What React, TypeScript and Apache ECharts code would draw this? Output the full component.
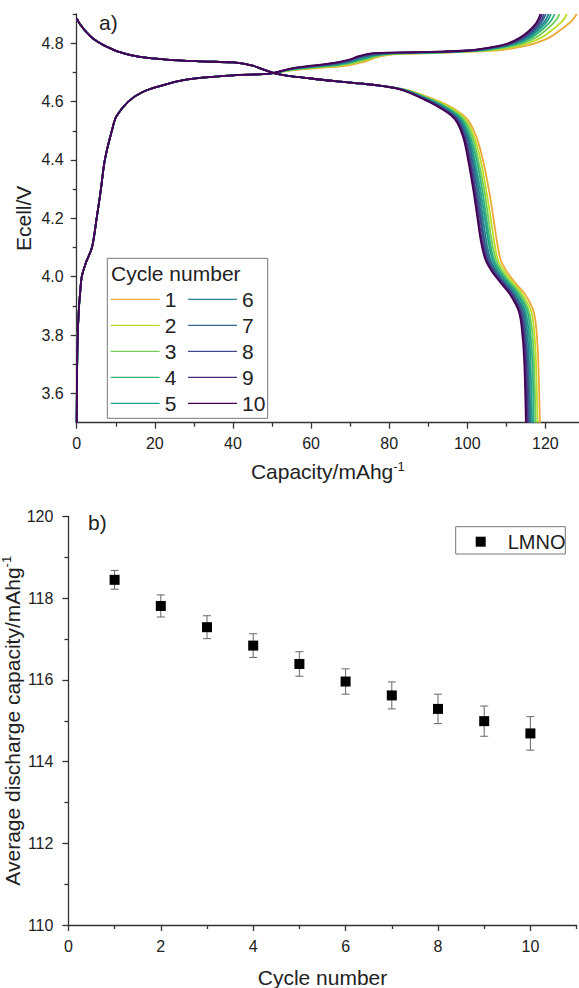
import React, { useEffect, useRef } from "react";
import * as echarts from "echarts";

// ---------- Panel a: charge / discharge curves ----------
const CYCLE_NAMES = ["1", "2", "3", "4", "5", "6", "7", "8", "9", "10"];
const CYCLE_COLORS = ["#EBA937", "#BCDD28", "#72CF56", "#33B37A", "#1F9E89", "#26828E", "#31688E", "#3E4A89", "#482878", "#440154"];

// charge, common start (capacity mAh/g, voltage V)
const CH_START_CAP = [0, 0.09, 0.26, 0.6, 0.85, 1.3, 2.4, 3.9, 5.1, 6.2, 7.2, 9.0, 10.2, 13.2, 16.5, 20.5, 28, 40, 49.5];
const CH_START_V = [3.5, 3.67, 3.8, 3.9, 3.94, 4.0, 4.05, 4.1, 4.2, 4.3, 4.4, 4.5, 4.55, 4.6, 4.63, 4.65, 4.675, 4.69, 4.696];

// charge, middle part: voltages of each cycle at these capacities
const CH_MID_CAP = [55, 60, 64, 67, 70, 72, 74, 76, 78, 81, 86, 93];
const CH_MID_V_C1 = [4.707, 4.713, 4.717, 4.72, 4.725, 4.731, 4.738, 4.748, 4.756, 4.762, 4.764, 4.767];
const CH_MID_V_C2 = [4.708, 4.715, 4.719, 4.723, 4.728, 4.735, 4.742, 4.751, 4.758, 4.763, 4.765, 4.768];
const CH_MID_V_C3 = [4.709, 4.716, 4.721, 4.725, 4.731, 4.738, 4.745, 4.754, 4.759, 4.764, 4.766, 4.768];
const CH_MID_V_C4 = [4.71, 4.717, 4.722, 4.726, 4.734, 4.741, 4.748, 4.756, 4.761, 4.765, 4.766, 4.769];
const CH_MID_V_C5 = [4.711, 4.719, 4.724, 4.728, 4.736, 4.744, 4.751, 4.758, 4.762, 4.765, 4.767, 4.769];
const CH_MID_V_C6 = [4.712, 4.72, 4.725, 4.73, 4.738, 4.747, 4.754, 4.76, 4.763, 4.766, 4.767, 4.77];
const CH_MID_V_C7 = [4.712, 4.721, 4.726, 4.731, 4.74, 4.749, 4.756, 4.762, 4.764, 4.767, 4.768, 4.77];
const CH_MID_V_C8 = [4.713, 4.721, 4.727, 4.733, 4.742, 4.751, 4.758, 4.763, 4.765, 4.767, 4.768, 4.77];
const CH_MID_V_C9 = [4.713, 4.722, 4.728, 4.734, 4.743, 4.753, 4.76, 4.765, 4.766, 4.768, 4.769, 4.771];
const CH_MID_V_C10 = [4.714, 4.723, 4.729, 4.735, 4.745, 4.755, 4.762, 4.766, 4.767, 4.768, 4.769, 4.771];

// charge, end part: capacity of each cycle at these voltages
const CH_TAIL_V = [4.775, 4.78, 4.79, 4.8, 4.82, 4.84, 4.86, 4.88, 4.9];
const CH_TAIL_CAP_C1 = [107.0, 110.5, 114.5, 117.5, 121.1, 123.3, 125.3, 127.0, 128.0];
const CH_TAIL_CAP_C2 = [105.1, 108.5, 112.7, 115.6, 119.1, 121.2, 123.1, 124.6, 125.5];
const CH_TAIL_CAP_C3 = [103.7, 107.1, 111.4, 114.3, 117.6, 119.7, 121.4, 122.8, 123.6];
const CH_TAIL_CAP_C4 = [102.7, 106.1, 110.4, 113.3, 116.5, 118.6, 120.3, 121.6, 122.3];
const CH_TAIL_CAP_C5 = [102.0, 105.3, 109.7, 112.6, 115.8, 117.8, 119.5, 120.7, 121.4];
const CH_TAIL_CAP_C6 = [101.5, 104.8, 109.3, 112.1, 115.3, 117.3, 118.9, 120.1, 120.8];
const CH_TAIL_CAP_C7 = [101.1, 104.3, 108.8, 111.6, 114.7, 116.8, 118.3, 119.4, 120.1];
const CH_TAIL_CAP_C8 = [100.7, 103.9, 108.5, 111.3, 114.4, 116.4, 117.9, 119.0, 119.6];
const CH_TAIL_CAP_C9 = [100.3, 103.5, 108.1, 110.9, 113.9, 115.9, 117.4, 118.5, 119.1];
const CH_TAIL_CAP_C10 = [100.0, 103.2, 107.8, 110.6, 113.6, 115.6, 117.1, 118.1, 118.7];

// discharge, common start
const DIS_HEAD_CAP = [0, 1, 2.6, 4, 6, 8, 10.2, 13, 16.2, 23, 31.6, 40.1, 43, 45.3, 47, 48.6, 50, 52, 54.6, 60, 66, 72.5, 78];
const DIS_HEAD_V = [4.885, 4.862, 4.836, 4.818, 4.8, 4.786, 4.773, 4.762, 4.753, 4.744, 4.738, 4.734, 4.729, 4.722, 4.714, 4.706, 4.7, 4.693, 4.687, 4.679, 4.67, 4.662, 4.654];

// discharge, end part: capacity of each cycle at these voltages
const DIS_TAIL_V = [4.64, 4.61, 4.58, 4.54, 4.48, 4.4, 4.3, 4.2, 4.12, 4.06, 4.02, 3.98, 3.94, 3.88, 3.8, 3.7, 3.5];
const DIS_TAIL_CAP_C1 = [84.5, 91.0, 96.0, 100.0, 102.3, 104.0, 105.5, 106.7, 107.6, 108.5, 110.0, 112.2, 114.8, 117.0, 117.8, 118.2, 118.6];
const DIS_TAIL_CAP_C2 = [84.3, 90.6, 95.5, 99.5, 101.7, 103.4, 104.8, 106.0, 106.9, 107.8, 109.4, 111.6, 114.1, 116.4, 117.2, 117.6, 118.0];
const DIS_TAIL_CAP_C3 = [84.1, 90.2, 95.0, 99.0, 101.3, 102.8, 104.3, 105.4, 106.3, 107.3, 108.8, 111.1, 113.6, 115.8, 116.7, 117.1, 117.5];
const DIS_TAIL_CAP_C4 = [83.9, 89.9, 94.6, 98.6, 100.8, 102.4, 103.8, 104.9, 105.8, 106.8, 108.4, 110.6, 113.1, 115.4, 116.2, 116.7, 117.0];
const DIS_TAIL_CAP_C5 = [83.8, 89.6, 94.2, 98.2, 100.4, 101.9, 103.3, 104.5, 105.4, 106.4, 107.9, 110.2, 112.7, 114.9, 115.8, 116.2, 116.6];
const DIS_TAIL_CAP_C6 = [83.6, 89.4, 93.9, 97.9, 100.1, 101.5, 102.9, 104.0, 104.9, 105.9, 107.5, 109.8, 112.2, 114.5, 115.4, 115.8, 116.2];
const DIS_TAIL_CAP_C7 = [83.5, 89.1, 93.6, 97.6, 99.8, 101.2, 102.5, 103.6, 104.5, 105.6, 107.2, 109.4, 111.9, 114.2, 115.0, 115.5, 115.9];
const DIS_TAIL_CAP_C8 = [83.4, 88.9, 93.3, 97.3, 99.4, 100.8, 102.1, 103.3, 104.2, 105.2, 106.8, 109.1, 111.5, 113.8, 114.7, 115.2, 115.6];
const DIS_TAIL_CAP_C9 = [83.3, 88.7, 93.1, 97.1, 99.2, 100.5, 101.8, 102.9, 103.8, 104.9, 106.5, 108.8, 111.2, 113.5, 114.4, 114.9, 115.3];
const DIS_TAIL_CAP_C10 = [83.2, 88.5, 92.8, 96.8, 98.9, 100.2, 101.5, 102.6, 103.5, 104.6, 106.2, 108.5, 110.9, 113.2, 114.1, 114.6, 115.0];

const CH_MID_V = [CH_MID_V_C1, CH_MID_V_C2, CH_MID_V_C3, CH_MID_V_C4, CH_MID_V_C5, CH_MID_V_C6, CH_MID_V_C7, CH_MID_V_C8, CH_MID_V_C9, CH_MID_V_C10];
const CH_TAIL_CAP = [CH_TAIL_CAP_C1, CH_TAIL_CAP_C2, CH_TAIL_CAP_C3, CH_TAIL_CAP_C4, CH_TAIL_CAP_C5, CH_TAIL_CAP_C6, CH_TAIL_CAP_C7, CH_TAIL_CAP_C8, CH_TAIL_CAP_C9, CH_TAIL_CAP_C10];
const DIS_TAIL_CAP = [DIS_TAIL_CAP_C1, DIS_TAIL_CAP_C2, DIS_TAIL_CAP_C3, DIS_TAIL_CAP_C4, DIS_TAIL_CAP_C5, DIS_TAIL_CAP_C6, DIS_TAIL_CAP_C7, DIS_TAIL_CAP_C8, DIS_TAIL_CAP_C9, DIS_TAIL_CAP_C10];

const A_X_MAJOR = [0, 20, 40, 60, 80, 100, 120];
const A_X_MINOR = [10, 30, 50, 70, 90, 110];
const A_Y_MAJOR = [3.6, 3.8, 4.0, 4.2, 4.4, 4.6, 4.8];
const A_Y_MINOR = [3.7, 3.9, 4.1, 4.3, 4.5, 4.7, 4.9];

// ---------- Panel b: average discharge capacity ----------
const CYCLE_NUM = [1, 2, 3, 4, 5, 6, 7, 8, 9, 10];
const AVG_CAP = [118.45, 117.81, 117.29, 116.84, 116.39, 115.96, 115.62, 115.29, 114.99, 114.69];
const CAP_ERR = [0.23, 0.27, 0.28, 0.29, 0.3, 0.31, 0.33, 0.36, 0.37, 0.41];

const B_X_MAJOR = [0, 2, 4, 6, 8, 10];
const B_X_MINOR = [1, 3, 5, 7, 9, 11];
const B_Y_MAJOR = [110, 112, 114, 116, 118, 120];
const B_Y_MINOR = [111, 113, 115, 117, 119];

const FONT = "Liberation Sans, Arial, sans-serif";
const TXT = "#222";
const AX = "#333";

function zip(xs: number[], ys: number[]) {
  return xs.map((x, i) => [x, ys[i]]);
}

function mainAxis(o: any) {
  return {
    type: "value",
    gridIndex: o.grid,
    position: o.position,
    min: o.min,
    max: o.max,
    name: o.name,
    nameLocation: "middle",
    nameGap: o.nameGap,
    nameMoveOverlap: false,
    nameTextStyle: {
      fontSize: 21,
      fontFamily: FONT,
      color: TXT,
      lineHeight: 24,
      rich: { sup: { fontSize: 13, fontFamily: FONT, color: TXT, verticalAlign: "top", lineHeight: 14 } },
    },
    axisLine: { show: true, onZero: false, lineStyle: { color: AX, width: 1.3 } },
    axisTick: { show: true, inside: false, length: 6, customValues: o.major, lineStyle: { color: AX, width: 1.3 } },
    axisLabel: {
      show: true,
      customValues: o.major,
      margin: o.margin,
      fontSize: 16,
      fontFamily: FONT,
      color: TXT,
      formatter: o.fmt,
    },
    splitLine: { show: false },
  };
}

function minorAxis(o: any) {
  return {
    type: "value",
    gridIndex: o.grid,
    position: o.position,
    min: o.min,
    max: o.max,
    axisLine: { show: false, onZero: false },
    axisTick: { show: true, inside: false, length: 4, customValues: o.minor, lineStyle: { color: AX, width: 1.3 } },
    axisLabel: { show: false },
    splitLine: { show: false },
  };
}

export default function App() {
  const ref = useRef<HTMLDivElement>(null);

  useEffect(() => {
    document.body.style.margin = "0";
    if (!ref.current) return;
    const chart = echarts.init(ref.current, null, { renderer: "svg" });

    const series: any[] = [];
    for (let k = 0; k < 10; k++) {
      const charge = [
        ...zip(CH_START_CAP, CH_START_V),
        ...zip(CH_MID_CAP, CH_MID_V[k]),
        ...zip(CH_TAIL_CAP[k], CH_TAIL_V),
      ];
      const discharge = [...zip(DIS_HEAD_CAP, DIS_HEAD_V), ...zip(DIS_TAIL_CAP[k], DIS_TAIL_V)];
      [charge, discharge].forEach((data) => {
        series.push({
          type: "line",
          name: CYCLE_NAMES[k],
          xAxisIndex: 0,
          yAxisIndex: 0,
          data,
          symbol: "none",
          smooth: 0.35,
          lineStyle: { color: CYCLE_COLORS[k], width: 1.8 },
          itemStyle: { color: CYCLE_COLORS[k] },
          z: 2 + k,
          silent: true,
        });
      });
    }

    series.push({
      type: "custom",
      xAxisIndex: 2,
      yAxisIndex: 2,
      data: CYCLE_NUM.map((c, i) => [c, AVG_CAP[i], CAP_ERR[i]]),
      encode: { x: 0, y: 1 },
      silent: true,
      z: 2,
      renderItem: (params: any, api: any) => {
        const x = api.value(0);
        const y = api.value(1);
        const e = api.value(2);
        const t = api.coord([x, y + e]);
        const b = api.coord([x, y - e]);
        const w = 4;
        const style = { stroke: "#666", lineWidth: 1 };
        return {
          type: "group",
          children: [
            { type: "line", shape: { x1: t[0], y1: t[1], x2: b[0], y2: b[1] }, style },
            { type: "line", shape: { x1: t[0] - w, y1: t[1], x2: t[0] + w, y2: t[1] }, style },
            { type: "line", shape: { x1: b[0] - w, y1: b[1], x2: b[0] + w, y2: b[1] }, style },
          ],
        };
      },
    });

    series.push({
      type: "scatter",
      name: "LMNO",
      xAxisIndex: 2,
      yAxisIndex: 2,
      data: zip(CYCLE_NUM, AVG_CAP),
      symbol: "rect",
      symbolSize: 10,
      itemStyle: { color: "#000", opacity: 1 },
      z: 3,
      silent: true,
    });

    const legendText = { fontSize: 21, fontFamily: FONT, color: TXT, lineHeight: 26 };
    const cycleLegend = {
      orient: "vertical",
      top: 286.3,
      padding: 0,
      itemGap: 0,
      itemWidth: 49,
      itemHeight: 14,
      selectedMode: false,
      lineStyle: { width: 1.3 },
      itemStyle: { opacity: 0, borderWidth: 0 },
      textStyle: legendText,
    };

    chart.setOption({
      animation: false,
      backgroundColor: "#fff",
      grid: [
        { left: 76.7, top: 14, width: 502.3, height: 408.7, containLabel: false, outerBoundsMode: "none" },
        { left: 68.4, top: 516.5, width: 508.2, height: 408.5, containLabel: false, outerBoundsMode: "none" },
      ],
      xAxis: [
        mainAxis({
          grid: 0, position: "bottom", min: 0, max: 128.6, major: A_X_MAJOR, margin: 13,
          fmt: (v: number) => String(v), name: "Capacity/mAhg{sup|-1}", nameGap: 37,
        }),
        minorAxis({ grid: 0, position: "bottom", min: 0, max: 128.6, minor: A_X_MINOR }),
        mainAxis({
          grid: 1, position: "bottom", min: 0, max: 11, major: B_X_MAJOR, margin: 13,
          fmt: (v: number) => String(v), name: "Cycle number", nameGap: 40,
        }),
        minorAxis({ grid: 1, position: "bottom", min: 0, max: 11, minor: B_X_MINOR }),
      ],
      yAxis: [
        mainAxis({
          grid: 0, position: "left", min: 3.5, max: 4.9, major: A_Y_MAJOR, margin: 13,
          fmt: (v: number) => v.toFixed(1), name: "Ecell/V", nameGap: 41,
        }),
        minorAxis({ grid: 0, position: "left", min: 3.5, max: 4.9, minor: A_Y_MINOR }),
        mainAxis({
          grid: 1, position: "left", min: 110, max: 120, major: B_Y_MAJOR, margin: 15,
          fmt: (v: number) => String(v), name: "Average discharge capacity/mAhg{sup|-1}", nameGap: 44,
        }),
        minorAxis({ grid: 1, position: "left", min: 110, max: 120, minor: B_Y_MINOR }),
      ],
      legend: [
        { ...cycleLegend, data: CYCLE_NAMES.slice(0, 5), left: 110 },
        { ...cycleLegend, data: CYCLE_NAMES.slice(5, 10), left: 187.3 },
        {
          data: ["LMNO"],
          orient: "vertical",
          left: 475.7,
          top: 531.7,
          padding: 0,
          itemWidth: 10,
          itemHeight: 10,
          icon: "rect",
          selectedMode: false,
          textStyle: { fontSize: 20, fontFamily: FONT, color: TXT, lineHeight: 20, padding: [0, 0, 0, 17] },
        },
      ],
      graphic: [
        {
          type: "text",
          left: 99,
          top: 12,
          style: { text: "a)", fontSize: 21, fontFamily: FONT, fill: TXT },
        },
        {
          type: "text",
          left: 88,
          top: 512,
          style: { text: "b)", fontSize: 21, fontFamily: FONT, fill: TXT },
        },
        {
          type: "rect",
          shape: { x: 107.3, y: 258.3, width: 160.4, height: 160 },
          style: { fill: "rgba(255,255,255,0)", stroke: "#777", lineWidth: 1 },
          silent: true,
        },
        {
          type: "text",
          x: 111,
          y: 273.3,
          style: { text: "Cycle number", fontSize: 21, fontFamily: FONT, fill: TXT, verticalAlign: "middle" },
          silent: true,
        },
        {
          type: "rect",
          shape: { x: 455.7, y: 526.7, width: 109.6, height: 27.3 },
          style: { fill: "rgba(255,255,255,0)", stroke: "#777", lineWidth: 1 },
          silent: true,
        },
      ],
      series,
    });

    return () => {
      chart.dispose();
    };
  }, []);

  return <div ref={ref} style={{ width: 579, height: 988 }} />;
}
